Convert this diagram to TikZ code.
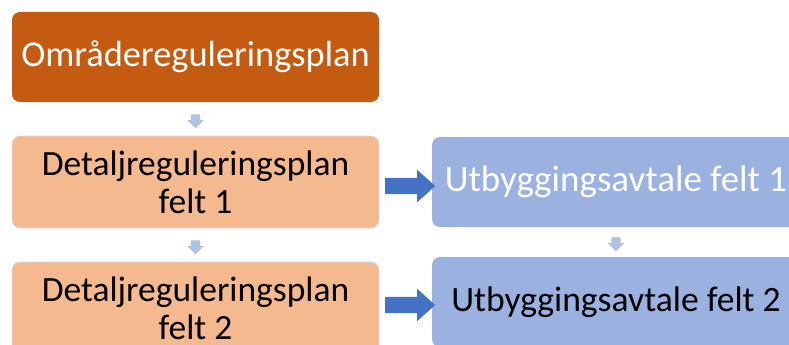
\documentclass[tikz,border=0pt]{standalone}
\usepackage{fontspec}
\setmainfont{Carlito}
\usetikzlibrary{shapes.arrows,calc}

\definecolor{planDark}{RGB}{197,90,17}
\definecolor{planLight}{RGB}{244,185,142}
\definecolor{planEdge}{RGB}{214,221,234}
\definecolor{dealBlue}{RGB}{155,177,223}
\definecolor{arrowBlue}{RGB}{68,114,196}
\definecolor{stepBlue}{RGB}{178,194,228}

\tikzset{
  box/.style={rectangle, rounded corners=8pt, inner sep=0pt, align=center},
  mainbox/.style={box, fill=planDark, text=white,
    font=\fontsize{36.4}{40}\selectfont,
    minimum width=367pt, minimum height=90pt},
  planbox/.style={box, fill=planLight, draw=planEdge, line width=0.8pt, text=black,
    font=\fontsize{35.5}{38}\selectfont,
    minimum width=367pt, minimum height=92pt},
  dealbox/.style={box, fill=dealBlue, minimum width=368pt, minimum height=90pt},
  stepdown/.style={single arrow, fill=stepBlue, draw=none, rotate=-90,
    inner xsep=0pt, inner ysep=4.5pt, minimum width=16pt,
    single arrow head extend=3.5pt, minimum height=14pt},
  linkright/.style={single arrow, fill=arrowBlue, draw=none,
    inner xsep=0pt, inner ysep=8pt, minimum width=32pt,
    single arrow head extend=8pt, single arrow tip angle=84, minimum height=50pt}
}

\begin{document}
\begin{tikzpicture}[x=1pt,y=-1pt]
  \useasboundingbox (0,0) rectangle (789,345);
  \clip (0,0) rectangle (789,345);

  % plan hierarchy (left column)
  \node[mainbox] (omr) at (195.5,57) {Områdereguleringsplan};
  \node[planbox] (det1) at (195.5,182) {Detaljreguleringsplan\\felt 1};
  \node[planbox] (det2) at (195.5,308) {Detaljreguleringsplan\\felt 2};

  % agreements (right column)
  \node[dealbox, text=white, font=\fontsize{37}{40}\selectfont] (utb1) at (616,182) {Utbyggingsavtale felt 1};
  \node[dealbox, text=black, font=\fontsize{35.6}{40}\selectfont] (utb2) at (616,302) {Utbyggingsavtale felt 2};

  % small step arrows between levels
  \node[stepdown] (s1) at ($(omr.south)!0.5!(det1.north)$) {};
  \node[stepdown] (s2) at ($(det1.south)!0.5!(det2.north)$) {};
  \node[stepdown] (s3) at ($(utb1.south)!0.5!(utb2.north)$) {};

  % links from plans to agreements
  \node[linkright] (l1) at ($($(det1.east)!0.5!(utb1.west)$)+(0,4)$) {};
  \node[linkright] (l2) at ($(det2.east)!0.5!(utb2.west)$) {};
\end{tikzpicture}
\end{document}
